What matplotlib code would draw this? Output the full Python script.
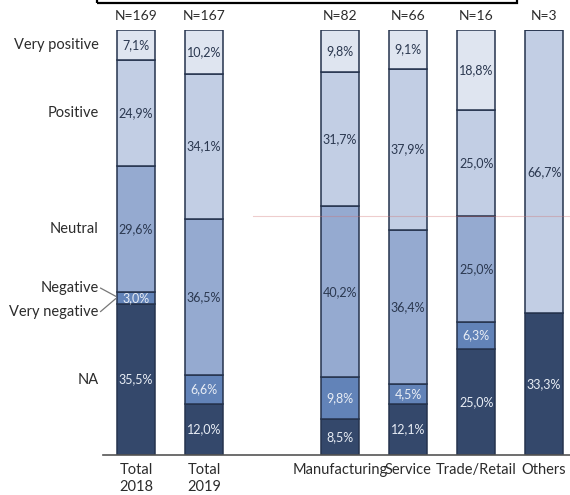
import matplotlib.pyplot as plt
import matplotlib.patches as patches
import numpy as np

plt.rcParams['font.family'] = ['Lato', 'DejaVu Sans']

# data (bottom to top of each column)
groups = ['Total\n2018', 'Total\n2019', 'Manufacturing', 'Service', 'Trade/Retail', 'Others']
n_labels = ['N=169', 'N=167', 'N=82', 'N=66', 'N=16', 'N=3']
xpos = [0, 1, 3, 4, 5, 6]

cats = ['NA', 'Very negative', 'Negative', 'Neutral', 'Positive', 'Very positive']
na = [35.5, 12.0, 8.5, 12.1, 25.0, 33.3]
very_negative = [0.0, 0.0, 0.0, 0.0, 0.0, 0.0]
negative = [3.0, 6.6, 9.8, 4.5, 6.3, 0.0]
neutral = [29.6, 36.5, 40.2, 36.4, 25.0, 0.0]
positive = [24.9, 34.1, 31.7, 37.9, 25.0, 66.7]
very_positive = [7.1, 10.2, 9.8, 9.1, 18.8, 0.0]

colors = ['#34486b', '#4a6699', '#6283b8', '#95aad0', '#c2cee4', '#dfe5f0']
text_colors = ['#e8edf5', '#e8edf5', '#e8edf5', '#2b3850', '#2b3850', '#2b3850']

series = [na, very_negative, negative, neutral, positive, very_positive]
data = np.array(series)
# columns drawn as 100% stacked
data = data / data.sum(axis=0) * 100

fig = plt.figure(figsize=(5.7, 4.95), dpi=100)
ax = fig.add_axes([103 / 570, 40 / 495, 467 / 570, 425 / 495])

width = 0.56
bottom = np.zeros(len(groups))
for i, cat in enumerate(cats):
    vals = data[i]
    ax.bar(xpos, vals, width, bottom=bottom, color=colors[i],
           edgecolor='#25334d', linewidth=1.1, zorder=2)
    for j, v in enumerate(series[i]):
        if v > 0:
            label = f'{v:.1f}%'.replace('.', ',')
            ax.text(xpos[j], bottom[j] + vals[j] / 2, label,
                    ha='center', va='center', fontsize=9,
                    color=text_colors[i], zorder=3)
    bottom += vals

# N labels above the columns
for x, n in zip(xpos, n_labels):
    ax.text(x, 103.3, n, ha='center', va='center', fontsize=10,
            color='#2b2b2b', clip_on=False)

# category labels on the left of the first column
b = np.concatenate([[0], np.cumsum(data[:, 0])])
mids = (b[:-1] + b[1:]) / 2
for name, y in [('Very positive', mids[5]), ('Positive', mids[4]),
                ('Neutral', mids[3]), ('NA', mids[0])]:
    ax.text(-0.55, y, name, ha='right', va='center', fontsize=10.5, color='#2b2b2b',
            clip_on=False)
neg_mid = mids[2]
ax.text(-0.55, neg_mid + 2.4, 'Negative', ha='right', va='center', fontsize=10.5,
        color='#2b2b2b', clip_on=False)
ax.text(-0.55, neg_mid - 3.4, 'Very negative', ha='right', va='center', fontsize=10.5,
        color='#2b2b2b', clip_on=False)
ax.plot([-0.52, -0.3], [neg_mid + 2.3, neg_mid + 0.4], color='#777777', lw=0.9,
        clip_on=False)
ax.plot([-0.3, -0.52], [neg_mid - 0.2, neg_mid - 3.2], color='#777777', lw=0.9,
        clip_on=False)

# faint red line across the right part
ax.plot([1.72, 6.38], [56.2, 56.2], color='#d07070', lw=0.8, alpha=0.35, zorder=4)

ax.set_xlim(-0.485, 6.38)
ax.set_ylim(0, 100)
ax.set_xticks(xpos)
ax.set_xticklabels(groups, fontsize=10.5, color='#2b2b2b', linespacing=1.25)
ax.tick_params(axis='x', length=0, pad=6)
ax.set_yticks([])
for s in ['top', 'right', 'left']:
    ax.spines[s].set_visible(False)
ax.spines['bottom'].set_color('#555555')
ax.spines['bottom'].set_linewidth(1.2)

# box cut off at the top edge
fig.patches.append(patches.Rectangle((97 / 570, 492 / 495), 420 / 570, 0.05,
                                     transform=fig.transFigure, fill=False,
                                     edgecolor='black', linewidth=1.6))

fig.savefig('out.png', dpi=100)
